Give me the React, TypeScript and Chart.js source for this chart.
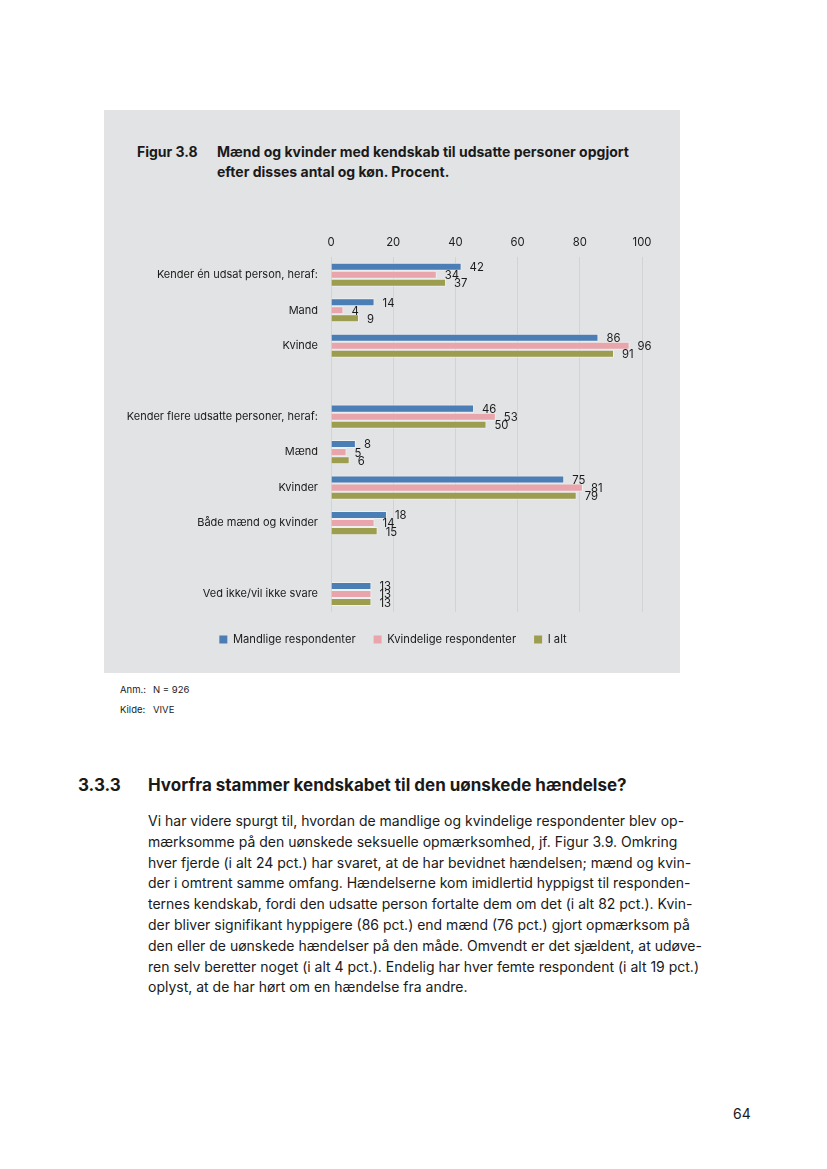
import React, { useEffect, useRef } from "react";
import { Chart, registerables } from "chart.js";

Chart.register(...registerables);

const categories = [
  "Kender én udsat person, heraf:",
  "Mand",
  "Kvinde",
  "",
  "Kender flere udsatte personer, heraf:",
  "Mænd",
  "Kvinder",
  "Både mænd og kvinder",
  "",
  "Ved ikke/vil ikke svare",
];
const seriesNames = ["Mandlige respondenter", "Kvindelige respondenter", "I alt"];
const male = [42, 14, 86, null, 46, 8, 75, 18, null, 13];
const female = [34, 4, 96, null, 53, 5, 81, 14, null, 13];
const total = [37, 9, 91, null, 50, 6, 79, 15, null, 13];
const xTicks = [0, 20, 40, 60, 80, 100];

const colors = ["#4a7eb4", "#e8a6ac", "#9d9d4f"];
const FONT = "Inter, 'Noto Sans', sans-serif";

const bodyLines = [
  "Vi har videre spurgt til, hvordan de mandlige og kvindelige respondenter blev op-",
  "mærksomme på den uønskede seksuelle opmærksomhed, jf. Figur 3.9. Omkring",
  "hver fjerde (i alt 24 pct.) har svaret, at de har bevidnet hændelsen; mænd og kvin-",
  "der i omtrent samme omfang. Hændelserne kom imidlertid hyppigst til responden-",
  "ternes kendskab, fordi den udsatte person fortalte dem om det (i alt 82 pct.). Kvin-",
  "der bliver signifikant hyppigere (86 pct.) end mænd (76 pct.) gjort opmærksom på",
  "den eller de uønskede hændelser på den måde. Omvendt er det sjældent, at udøve-",
  "ren selv beretter noget (i alt 4 pct.). Endelig har hver femte respondent (i alt 19 pct.)",
  "oplyst, at de har hørt om en hændelse fra andre.",
];

const labelPlugin = {
  id: "barLabels",
  afterLayout(chart: any) {
    const lg = chart.legend;
    if (lg) {
      lg.right += 40;
      lg.width += 40;
    }
  },
  afterDatasetsDraw(chart: any) {
    const ctx = chart.ctx;
    ctx.save();
    ctx.font = `11.3px ${FONT}`;
    ctx.fillStyle = "#1a1a1a";
    ctx.textAlign = "left";
    ctx.textBaseline = "middle";
    chart.data.datasets.forEach((ds: any, i: number) => {
      const meta = chart.getDatasetMeta(i);
      meta.data.forEach((bar: any, j: number) => {
        const v = ds.data[j];
        if (v == null) return;
        ctx.fillText(String(v), bar.x + 8, bar.y + 1);
      });
    });
    ctx.restore();
  },
};

function BarChart() {
  const ref = useRef<HTMLCanvasElement | null>(null);
  useEffect(() => {
    if (!ref.current) return;
    const data = [male, female, total];
    const chart = new Chart(ref.current, {
      type: "bar",
      data: {
        labels: categories,
        datasets: seriesNames.map((name, i) => ({
          label: name,
          data: data[i] as any,
          backgroundColor: colors[i],
          borderColor: "rgba(245,245,245,0.7)",
          borderWidth: 1,
          barPercentage: 1,
          categoryPercentage: 0.68,
        })),
      },
      options: {
        indexAxis: "y",
        animation: false,
        responsive: true,
        maintainAspectRatio: false,
        layout: { padding: { left: 0, right: 38, top: 0, bottom: 5 } },
        scales: {
          x: {
            position: "top",
            min: 0,
            max: 100,
            afterBuildTicks: (scale: any) => {
              scale.ticks = xTicks.map((v) => ({ value: v }));
            },
            afterFit: (scale: any) => {
              scale.height = 29;
            },
            ticks: {
              font: { family: FONT, size: 11.3 },
              color: "#1a1a1a",
              padding: 8,
            },
            grid: { color: "#d2d3d5", drawTicks: false },
            border: { display: false },
          },
          y: {
            afterFit: (scale: any) => {
              scale.width = 227;
            },
            ticks: {
              font: { family: FONT, size: 11 },
              color: "#1a1a1a",
              padding: 13,
              autoSkip: false,
            },
            grid: { display: false, drawTicks: false },
            border: { display: false },
          },
        },
        plugins: {
          tooltip: { enabled: false },
          legend: {
            position: "bottom",
            title: { display: true, text: " ", font: { size: 2, lineHeight: 1 }, padding: 1 },
            labels: {
              boxWidth: 8,
              boxHeight: 8,
              padding: 18,
              color: "#1a1a1a",
              font: { family: FONT, size: 11.2 },
              generateLabels: (c: any) =>
                (Chart.defaults.plugins.legend.labels as any)
                  .generateLabels(c)
                  .map((l: any) => ({ ...l, lineWidth: 0, strokeStyle: "rgba(0,0,0,0)" })),
            },
          },
        },
      } as any,
      plugins: [labelPlugin],
    });
    return () => chart.destroy();
  }, []);
  return <canvas ref={ref} />;
}

export default function App() {
  const abs = (l: number, t: number): React.CSSProperties => ({
    position: "absolute",
    left: l,
    top: t,
    whiteSpace: "nowrap",
  });
  return (
    <div
      style={{
        position: "absolute",
        left: 0,
        top: 0,
        width: 827,
        height: 1169,
        background: "#ffffff",
        fontFamily: FONT,
        color: "#1a1a1a",
      }}
    >
      <div style={{ position: "absolute", left: 104, top: 110, width: 576, height: 563, background: "#e2e3e5" }} />
      <div style={{ ...abs(137, 142), fontSize: 14, fontWeight: 700, lineHeight: "20px" }}>Figur 3.8</div>
      <div style={{ ...abs(217, 142), fontSize: 14, fontWeight: 700, lineHeight: "20px" }}>
        Mænd og kvinder med kendskab til udsatte personer opgjort
        <br />
        efter disses antal og køn. Procent.
      </div>
      <div style={{ position: "absolute", left: 104, top: 228, width: 576, height: 432 }}>
        <BarChart />
      </div>
      <div style={{ ...abs(120, 684), fontSize: 9.5, lineHeight: "12px" }}>Anm.:</div>
      <div style={{ ...abs(153, 684), fontSize: 9.5, lineHeight: "12px" }}>N = 926</div>
      <div style={{ ...abs(120, 704), fontSize: 9.5, lineHeight: "12px" }}>Kilde:</div>
      <div style={{ ...abs(153, 704), fontSize: 9.5, lineHeight: "12px" }}>VIVE</div>
      <div style={{ ...abs(78, 774), fontSize: 17, fontWeight: 700, lineHeight: "22px" }}>3.3.3</div>
      <div style={{ ...abs(148, 774), fontSize: 17, fontWeight: 700, lineHeight: "22px" }}>
        Hvorfra stammer kendskabet til den uønskede hændelse?
      </div>
      <div style={{ ...abs(148, 811), fontSize: 14, lineHeight: "20.8px" }}>
        {bodyLines.map((l, i) => (
          <div key={i}>{l}</div>
        ))}
      </div>
      <div style={{ ...abs(733, 1105), fontSize: 14, lineHeight: "18px" }}>64</div>
    </div>
  );
}
